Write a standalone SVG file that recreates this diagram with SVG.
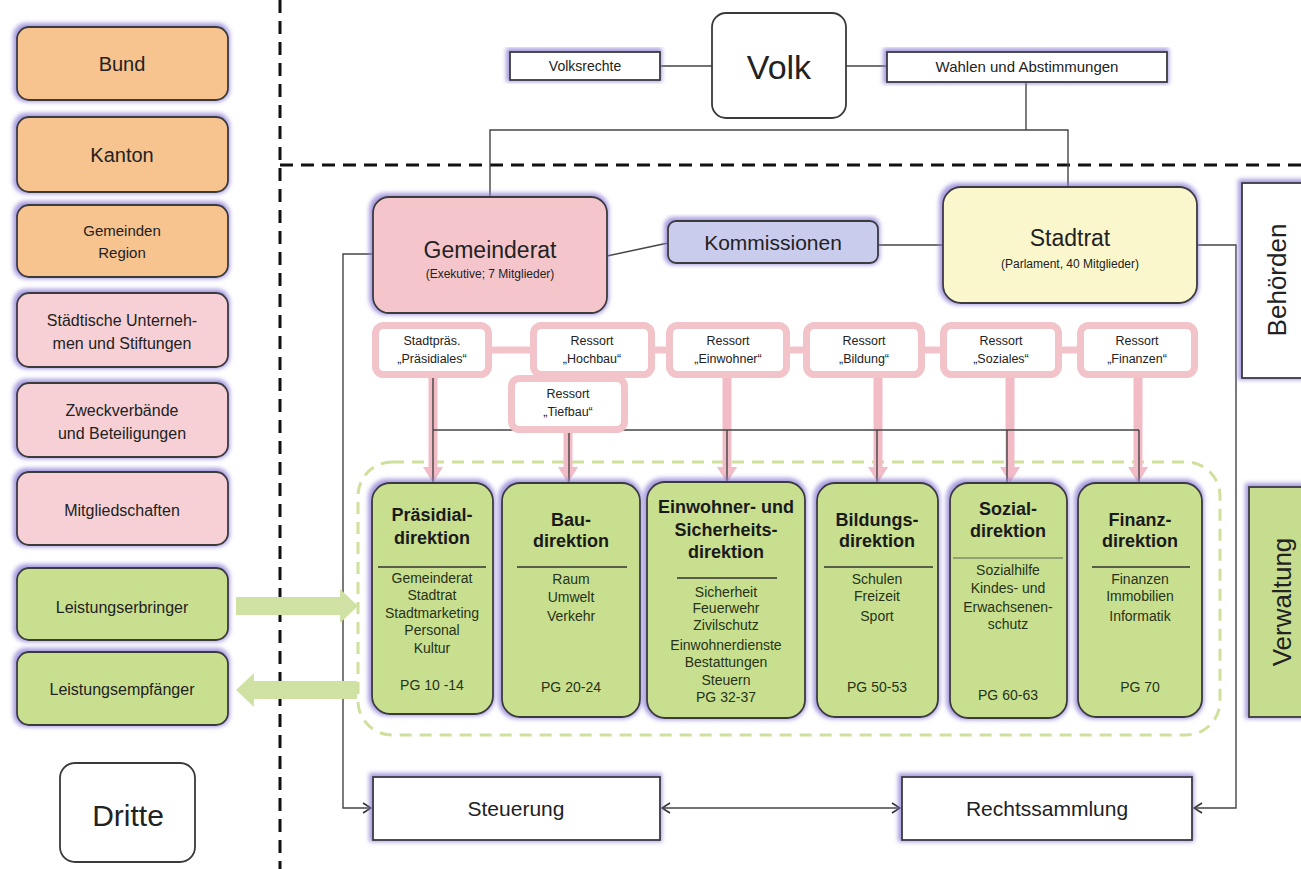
<svg xmlns="http://www.w3.org/2000/svg" width="1301" height="869" viewBox="0 0 1301 869">
<style>
text{font-family:"Liberation Sans",Arial,sans-serif;fill:#222;text-anchor:middle}
.box{stroke:#3a3a3a;stroke-width:1.8}
.org{fill:#f7c38f}
.pnk{fill:#f6d0d4}
.grn{fill:#c9df90}
.wht{fill:#fff}
.res{fill:#fff;stroke:#f3c3ca;stroke-width:7}
.ln{fill:none;stroke:#444;stroke-width:1.4}
.dash{fill:none;stroke:#111;stroke-width:3;stroke-dasharray:13 8}
.t{font-weight:bold;font-size:18px;fill:#1a1a1a}
.i{font-size:14px;fill:#263318}
.r{font-size:12.5px}
.div{stroke:#333;stroke-width:1.3}
</style>
<defs>
<filter id="glow" x="-15%" y="-15%" width="130%" height="130%">
<feMorphology in="SourceAlpha" operator="dilate" radius="2" result="d"/>
<feGaussianBlur in="d" stdDeviation="2" result="b"/>
<feOffset in="b" dx="-1" dy="-1" result="o"/>
<feFlood flood-color="#8a7ad4" flood-opacity="0.75"/>
<feComposite in2="o" operator="in" result="g"/>
<feMerge><feMergeNode in="g"/><feMergeNode in="SourceGraphic"/></feMerge>
</filter>
<marker id="arr" viewBox="0 0 10 12" refX="9" refY="6" markerWidth="10" markerHeight="12" markerUnits="userSpaceOnUse" orient="auto-start-reverse"><path d="M1,1 L9,6 L1,11" fill="none" stroke="#333" stroke-width="1.6"/></marker>
<marker id="pa" viewBox="0 0 16 20" refX="0" refY="10" markerWidth="16" markerHeight="20" markerUnits="userSpaceOnUse" orient="auto"><path d="M0,0 L16,10 L0,20 Z" fill="#f1bcc5"/></marker>
<marker id="ga" viewBox="0 0 18 34" refX="0" refY="17" markerWidth="18" markerHeight="34" markerUnits="userSpaceOnUse" orient="auto"><path d="M0,0 L18,17 L0,34 Z" fill="#cfe2a3"/></marker>
</defs>
<rect width="1301" height="869" fill="#fff"/>

<!-- dashed separators -->
<line class="dash" x1="280" y1="0" x2="280" y2="869"/>
<line class="dash" x1="280" y1="165" x2="1301" y2="165"/>

<!-- green dashed container -->
<rect x="358" y="462" width="862" height="273" rx="34" fill="none" stroke="#cfe09c" stroke-width="3" stroke-dasharray="12 8"/>

<g id="connectors">
<line class="ln" x1="660" y1="66" x2="712" y2="66"/>
<line class="ln" x1="846" y1="66" x2="887" y2="66"/>
<polyline class="ln" points="1026,82 1026,130"/>
<polyline class="ln" points="490,197 490,130 1068,130 1068,187"/>
<line class="ln" x1="607" y1="256" x2="668" y2="243"/>
<line class="ln" x1="878" y1="245" x2="943" y2="245"/>
<polyline class="ln" points="373,254 343,254 343,808 371,808" marker-end="url(#arr)"/>
<polyline class="ln" points="1197,245 1236,245 1236,808 1194,808" marker-end="url(#arr)"/>
<line class="ln" x1="662" y1="808" x2="900" y2="808" marker-start="url(#arr)" marker-end="url(#arr)"/>
<!-- pink bars between ressorts -->
<g stroke="#f3c3ca" stroke-width="7">
<line x1="492" y1="350" x2="530" y2="350"/>
<line x1="655" y1="350" x2="666" y2="350"/>
<line x1="790" y1="350" x2="803" y2="350"/>
<line x1="925" y1="350" x2="940" y2="350"/>
<line x1="1062" y1="350" x2="1077" y2="350"/>
</g>
<!-- pink arrows -->
<g stroke="#f1bcc5" stroke-width="9">
<line x1="433" y1="378" x2="433" y2="467" marker-end="url(#pa)"/>
<line x1="568" y1="433" x2="568" y2="467" marker-end="url(#pa)"/>
<line x1="727" y1="378" x2="727" y2="467" marker-end="url(#pa)"/>
<line x1="878" y1="378" x2="878" y2="467" marker-end="url(#pa)"/>
<line x1="1010" y1="378" x2="1010" y2="467" marker-end="url(#pa)"/>
<line x1="1138" y1="378" x2="1138" y2="467" marker-end="url(#pa)"/>
</g>
<!-- thin black network -->
<polyline class="ln" points="433,378 433,483"/>
<line class="ln" x1="433" y1="430" x2="1139" y2="430"/>
<line class="ln" x1="569" y1="430" x2="569" y2="483"/>
<line class="ln" x1="727" y1="430" x2="727" y2="483"/>
<line class="ln" x1="877" y1="430" x2="877" y2="483"/>
<line class="ln" x1="1007" y1="430" x2="1007" y2="483"/>
<line class="ln" x1="1139" y1="430" x2="1139" y2="483"/>
<!-- green service arrows -->
<line x1="236" y1="606" x2="340" y2="606" stroke="#cfe2a3" stroke-width="18" marker-end="url(#ga)"/>
<line x1="357" y1="690" x2="254" y2="690" stroke="#cfe2a3" stroke-width="18" marker-end="url(#ga)"/>
</g>

<!-- left column -->
<g id="bund"><rect class="box org" filter="url(#glow)" x="17" y="27" width="211" height="73" rx="12"/><text x="122" y="71" font-size="20">Bund</text></g>
<g id="kanton"><rect class="box org" filter="url(#glow)" x="17" y="117" width="211" height="75" rx="12"/><text x="122" y="162" font-size="20">Kanton</text></g>
<g id="gemeinden"><rect class="box org" filter="url(#glow)" x="17" y="205" width="211" height="72" rx="12"/><text x="122" y="236" font-size="15">Gemeinden</text><text x="122" y="258" font-size="15">Region</text></g>
<g id="unternehmen"><rect class="box pnk" filter="url(#glow)" x="17" y="293" width="211" height="74" rx="12"/><text x="122" y="326" font-size="16">Städtische Unterneh-</text><text x="122" y="349" font-size="16">men und Stiftungen</text></g>
<g id="zweckverbaende"><rect class="box pnk" filter="url(#glow)" x="17" y="383" width="211" height="74" rx="12"/><text x="122" y="416" font-size="16">Zweckverbände</text><text x="122" y="439" font-size="16">und Beteiligungen</text></g>
<g id="mitgliedschaften"><rect class="box pnk" filter="url(#glow)" x="17" y="472" width="211" height="73" rx="12"/><text x="122" y="516" font-size="16">Mitgliedschaften</text></g>
<g id="leistungserbringer"><rect class="box grn" filter="url(#glow)" x="17" y="568" width="211" height="72" rx="12"/><text x="122" y="613" font-size="16">Leistungserbringer</text></g>
<g id="leistungsempfaenger"><rect class="box grn" filter="url(#glow)" x="17" y="652" width="211" height="73" rx="12"/><text x="122" y="695" font-size="16">Leistungsempfänger</text></g>
<g id="dritte"><rect class="box wht" x="60" y="763" width="135" height="99" rx="15"/><text x="128" y="826" font-size="30">Dritte</text></g>

<!-- top -->
<g id="volksrechte"><rect class="box wht" filter="url(#glow)" x="510" y="52" width="150" height="28"/><text x="585" y="71" font-size="14">Volksrechte</text></g>
<g id="volk"><rect class="box wht" x="712" y="13" width="134" height="105" rx="14"/><text x="779" y="79" font-size="34">Volk</text></g>
<g id="wahlen"><rect class="box wht" filter="url(#glow)" x="887" y="52" width="280" height="30"/><text x="1027" y="72" font-size="15">Wahlen und Abstimmungen</text></g>

<!-- Behörden -->
<g id="gemeinderat"><rect class="box" fill="#f4c6cc" filter="url(#glow)" x="373" y="197" width="234" height="116" rx="16"/><text x="490" y="258" font-size="23">Gemeinderat</text><text x="490" y="278" font-size="12">(Exekutive; 7 Mitglieder)</text></g>
<g id="kommissionen"><rect class="box" fill="#cacced" filter="url(#glow)" x="668" y="221" width="210" height="42" rx="8"/><text x="773" y="250" font-size="21">Kommissionen</text></g>
<g id="stadtrat"><rect class="box" fill="#fbf7cd" filter="url(#glow)" x="943" y="187" width="254" height="116" rx="18"/><text x="1070" y="246" font-size="23">Stadtrat</text><text x="1070" y="268" font-size="12">(Parlament, 40 Mitglieder)</text></g>
<g id="behoerden"><rect class="box wht" filter="url(#glow)" x="1242" y="183" width="70" height="195"/><text transform="translate(1286,280) rotate(-90)" font-size="26">Behörden</text></g>

<!-- Ressorts -->
<g id="r-praesidiales"><rect class="res" x="375.5" y="325.5" width="113" height="49" rx="8"/><text class="r" x="432" y="345">Stadtpräs.</text><text class="r" x="432" y="363">„Präsidiales“</text></g>
<g id="r-hochbau"><rect class="res" x="533.5" y="325.5" width="118" height="49" rx="8"/><text class="r" x="592" y="345">Ressort</text><text class="r" x="592" y="363">„Hochbau“</text></g>
<g id="r-tiefbau"><rect class="res" x="511.5" y="378.5" width="113" height="51" rx="8"/><text class="r" x="568" y="398">Ressort</text><text class="r" x="568" y="416">„Tiefbau“</text></g>
<g id="r-einwohner"><rect class="res" x="669.5" y="325.5" width="117" height="49" rx="8"/><text class="r" x="728" y="345">Ressort</text><text class="r" x="728" y="363">„Einwohner“</text></g>
<g id="r-bildung"><rect class="res" x="806.5" y="325.5" width="115" height="49" rx="8"/><text class="r" x="864" y="345">Ressort</text><text class="r" x="864" y="363">„Bildung“</text></g>
<g id="r-soziales"><rect class="res" x="943.5" y="325.5" width="115" height="49" rx="8"/><text class="r" x="1001" y="345">Ressort</text><text class="r" x="1001" y="363">„Soziales“</text></g>
<g id="r-finanzen"><rect class="res" x="1080.5" y="325.5" width="114" height="49" rx="8"/><text class="r" x="1137" y="345">Ressort</text><text class="r" x="1137" y="363">„Finanzen“</text></g>

<!-- Direktionen -->
<g id="d-praesidial"><rect class="box grn" filter="url(#glow)" x="372" y="483" width="121" height="231" rx="18"/>
<text class="t" x="432" y="521">Präsidial-</text><text class="t" x="432" y="544">direktion</text>
<line class="div" x1="378" y1="567" x2="486" y2="567"/>
<text class="i" x="432" y="583">Gemeinderat</text><text class="i" x="432" y="600">Stadtrat</text><text class="i" x="432" y="618">Stadtmarketing</text><text class="i" x="432" y="635">Personal</text><text class="i" x="432" y="653">Kultur</text>
<text class="i" x="432" y="690">PG 10 -14</text></g>
<g id="d-bau"><rect class="box grn" filter="url(#glow)" x="502" y="483" width="138" height="234" rx="18"/>
<text class="t" x="571" y="526">Bau-</text><text class="t" x="571" y="547">direktion</text>
<line class="div" x1="517" y1="567" x2="627" y2="567"/>
<text class="i" x="571" y="584">Raum</text><text class="i" x="571" y="602">Umwelt</text><text class="i" x="571" y="621">Verkehr</text>
<text class="i" x="571" y="692">PG 20-24</text></g>
<g id="d-einwohner"><rect class="box grn" filter="url(#glow)" x="647" y="482" width="158" height="236" rx="18"/>
<text class="t" x="726" y="513">Einwohner- und</text><text class="t" x="726" y="536">Sicherheits-</text><text class="t" x="726" y="558">direktion</text>
<line class="div" x1="677" y1="578" x2="777" y2="578"/>
<text class="i" x="726" y="597">Sicherheit</text><text class="i" x="726" y="613">Feuerwehr</text><text class="i" x="726" y="630">Zivilschutz</text><text class="i" x="726" y="650">Einwohnerdienste</text><text class="i" x="726" y="667">Bestattungen</text><text class="i" x="726" y="685">Steuern</text>
<text class="i" x="726" y="702">PG 32-37</text></g>
<g id="d-bildung"><rect class="box grn" filter="url(#glow)" x="817" y="483" width="121" height="234" rx="18"/>
<text class="t" x="877" y="526">Bildungs-</text><text class="t" x="877" y="547">direktion</text>
<line class="div" x1="824" y1="567" x2="933" y2="567"/>
<text class="i" x="877" y="584">Schulen</text><text class="i" x="877" y="601">Freizeit</text><text class="i" x="877" y="621">Sport</text>
<text class="i" x="877" y="692">PG 50-53</text></g>
<g id="d-sozial"><rect class="box grn" filter="url(#glow)" x="950" y="483" width="117" height="235" rx="18"/>
<text class="t" x="1008" y="515">Sozial-</text><text class="t" x="1008" y="537">direktion</text>
<line x1="953" y1="558" x2="1063" y2="558" stroke="#555" stroke-width="0.9"/>
<text class="i" x="1008" y="575">Sozialhilfe</text><text class="i" x="1008" y="593">Kindes- und</text><text class="i" x="1008" y="612">Erwachsenen-</text><text class="i" x="1008" y="629">schutz</text>
<text class="i" x="1008" y="700">PG 60-63</text></g>
<g id="d-finanz"><rect class="box grn" filter="url(#glow)" x="1078" y="483" width="124" height="234" rx="18"/>
<text class="t" x="1140" y="526">Finanz-</text><text class="t" x="1140" y="547">direktion</text>
<line class="div" x1="1092" y1="567" x2="1190" y2="567"/>
<text class="i" x="1140" y="584">Finanzen</text><text class="i" x="1140" y="601">Immobilien</text><text class="i" x="1140" y="621">Informatik</text>
<text class="i" x="1140" y="692">PG 70</text></g>

<g id="verwaltung"><rect class="box" fill="#c6dd8f" filter="url(#glow)" x="1249" y="487" width="70" height="230"/><text transform="translate(1291,602) rotate(-90)" font-size="26">Verwaltung</text></g>

<!-- bottom -->
<g id="steuerung"><rect class="box wht" filter="url(#glow)" x="373" y="777" width="287" height="63"/><text x="516" y="816" font-size="21">Steuerung</text></g>
<g id="rechtssammlung"><rect class="box wht" filter="url(#glow)" x="902" y="777" width="290" height="63"/><text x="1047" y="816" font-size="21">Rechtssammlung</text></g>
</svg>
